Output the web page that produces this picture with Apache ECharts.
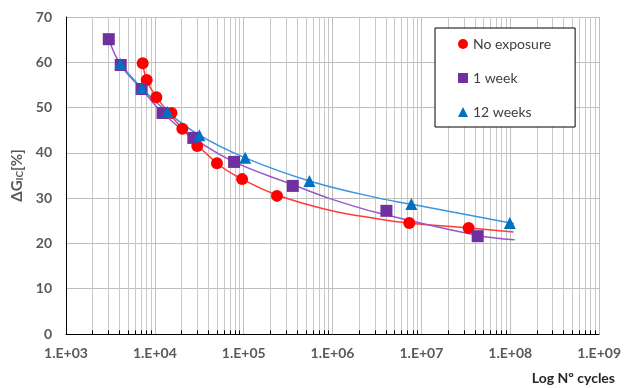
<!DOCTYPE html>
<html>
<head>
<meta charset="utf-8">
<script src="https://cdn.jsdelivr.net/npm/echarts@6/dist/echarts.min.js"></script>
<style>
  html, body { margin: 0; padding: 0; background: #fff; }
  #chart { width: 624px; height: 388px; }
</style>
</head>
<body>
<div id="chart"></div>
<script>
// measured points
const noExpCycles = [7.3e3, 8.1e3, 1.04e4, 1.54e4, 2.04e4, 3.0e4, 5.0e4, 9.6e4, 2.37e5, 7.3e6, 3.4e7];
const noExpGic = [59.8, 56.1, 52.3, 48.8, 45.3, 41.5, 37.7, 34.2, 30.5, 24.5, 23.4];
const week1Cycles = [3.03e3, 4.13e3, 7.1e3, 1.22e4, 2.71e4, 7.8e4, 3.57e5, 4.04e6, 4.3e7];
const week1Gic = [65.1, 59.4, 54.1, 48.8, 43.3, 38.0, 32.7, 27.2, 21.6];
const week12Cycles = [4.1e3, 7.1e3, 1.39e4, 3.17e4, 1.04e5, 5.5e5, 7.7e6, 9.9e7];
const week12Gic = [59.6, 54.3, 49.0, 43.9, 38.9, 33.8, 28.7, 24.5];

// trendlines
const noExpTrendX = [7.3e3, 8.1e3, 1.04e4, 2.04e4, 5.0e4, 9.6e4, 2.37e5, 9.0e5, 3.3e6, 7.1e6, 3.4e7, 1.09e8];
const noExpTrendY = [59.8, 56.1, 52.3, 45.3, 37.7, 34.2, 30.7, 27.4, 25.4, 24.5, 23.4, 22.5];
const week1TrendX = [3.03e3, 4.13e3, 7.1e3, 1.22e4, 2.71e4, 7.8e4, 3.66e5, 9.0e5, 3.3e6, 4.2e7, 1.12e8];
const week1TrendY = [65.1, 59.4, 54.1, 48.8, 43.3, 38.0, 32.9, 30.0, 26.7, 21.8, 20.8];
const week12TrendX = [4.1e3, 7.1e3, 1.39e4, 3.17e4, 1.04e5, 5.5e5, 3.3e6, 7.5e6, 1.01e8, 1.1e8];
const week12TrendY = [59.6, 54.3, 49.0, 43.9, 38.9, 33.8, 30.0, 28.7, 24.5, 24.4];

const seriesNames = ["No exposure", "1 week", "12 weeks"];
const yTicks = [0, 70, 10];

// minor log positions 2..9 in each decade
const minorX = [];
for (let e = 3; e < 9; e++) {
  for (let k = 2; k <= 9; k++) minorX.push(k * Math.pow(10, e));
}

const pairs = (xs, ys) => xs.map((x, i) => [x, ys[i]]);
const font = "Lato, 'Open Sans', sans-serif";

const chart = echarts.init(document.getElementById("chart"));
chart.setOption({
  animation: false,
  grid: { left: 66, right: 22, top: 17, bottom: 54 },
  legend: {
    orient: "vertical",
    left: 435,
    top: 28,
    z: 10,
    padding: [9, 24, 8, 23],
    itemWidth: 10,
    itemHeight: 10,
    itemGap: 20,
    backgroundColor: "#fff",
    borderColor: "#000",
    borderWidth: 1,
    borderRadius: 0,
    textStyle: { fontFamily: font, fontSize: 14, color: "#404040" },
    data: [
      { name: seriesNames[0], icon: "circle" },
      { name: seriesNames[1], icon: "rect" },
      { name: seriesNames[2], icon: "triangle" },
    ],
  },
  xAxis: {
    type: "log",
    logBase: 10,
    min: 1e3,
    max: 1e9,
    splitNumber: 6,
    axisLine: { lineStyle: { color: "#000", width: 1 } },
    axisTick: { show: false },
    splitLine: { show: true, lineStyle: { color: "#bfbfbf", width: 1 } },
    axisLabel: {
      margin: 12,
      fontFamily: font,
      fontWeight: "bold",
      fontSize: 14,
      color: "#595959",
      formatter: (v) => {
        const e = Math.round(Math.log10(v));
        return "1.E+" + (e < 10 ? "0" + e : e);
      },
    },
  },
  yAxis: {
    type: "value",
    min: yTicks[0],
    max: yTicks[1],
    interval: yTicks[2],
    name: "{d|ΔG}{s|IC}{d|[%]}",
    nameLocation: "middle",
    nameGap: 40,
    nameTextStyle: {
      rich: {
        d: { fontFamily: font, fontWeight: "bold", fontSize: 15, color: "#595959" },
        s: { fontFamily: font, fontWeight: "bold", fontSize: 10, color: "#595959", padding: [6, 0, 0, 0] },
      },
    },
    axisLine: { show: true, lineStyle: { color: "#000", width: 1 } },
    axisTick: { show: false },
    splitLine: { show: true, lineStyle: { color: "#bfbfbf", width: 1 } },
    axisLabel: {
      margin: 14,
      fontFamily: font,
      fontWeight: "bold",
      fontSize: 14,
      color: "#595959",
    },
  },
  graphic: [
    {
      type: "text",
      right: 9,
      top: 371,
      style: { text: "Log Nº cycles", font: "bold 14px " + font, fill: "#262626" },
    },
  ],
  series: [
    {
      name: "minor-grid",
      type: "line",
      data: [],
      silent: true,
      z: 0,
      markLine: {
        silent: true,
        z: 0,
        symbol: "none",
        label: { show: false },
        lineStyle: { color: "#c8c8c8", width: 1, type: "solid" },
        data: minorX.map((v) => ({ xAxis: v })),
      },
    },
    {
      name: "minor-ticks",
      type: "line",
      data: [],
      silent: true,
      z: 3,
      markLine: {
        silent: true,
        z: 3,
        symbol: "none",
        label: { show: false },
        lineStyle: { color: "#000", width: 1, type: "solid" },
        data: minorX.map((v) => [{ coord: [v, 0] }, { coord: [v, 0.8] }]),
      },
    },
    {
      name: "trend-no-exposure",
      type: "line",
      data: pairs(noExpTrendX, noExpTrendY),
      smooth: 0.4,
      showSymbol: false,
      silent: true,
      z: 2,
      lineStyle: { color: "#ff3b3b", width: 1.5 },
    },
    {
      name: "trend-1-week",
      type: "line",
      data: pairs(week1TrendX, week1TrendY),
      smooth: 0.4,
      showSymbol: false,
      silent: true,
      z: 2,
      lineStyle: { color: "#9a55c8", width: 1.5 },
    },
    {
      name: "trend-12-weeks",
      type: "line",
      data: pairs(week12TrendX, week12TrendY),
      smooth: 0.4,
      showSymbol: false,
      silent: true,
      z: 2,
      lineStyle: { color: "#3a95dc", width: 1.5 },
    },
    {
      name: seriesNames[0],
      type: "scatter",
      symbol: "circle",
      symbolSize: 12,
      z: 4,
      itemStyle: { color: "#ff0000", opacity: 1 },
      data: pairs(noExpCycles, noExpGic),
    },
    {
      name: seriesNames[1],
      type: "scatter",
      symbol: "rect",
      symbolSize: 12,
      z: 4,
      itemStyle: { color: "#7030a0", opacity: 1 },
      data: pairs(week1Cycles, week1Gic),
    },
    {
      name: seriesNames[2],
      type: "scatter",
      symbol: "triangle",
      symbolSize: 12,
      z: 5,
      itemStyle: { color: "#0070c0", opacity: 1 },
      data: pairs(week12Cycles, week12Gic),
    },
  ],
});
</script>
</body>
</html>
